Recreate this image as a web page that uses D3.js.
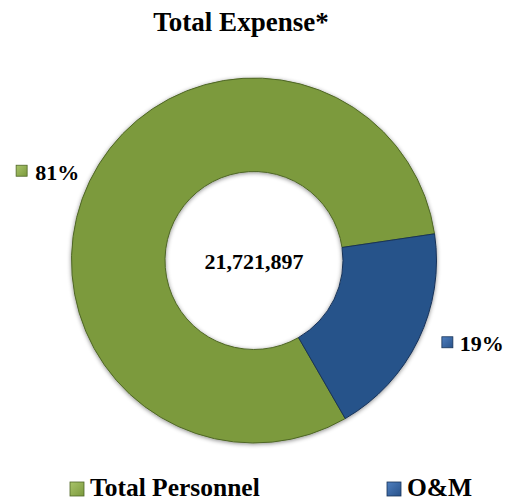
<!DOCTYPE html>
<html><head><meta charset="utf-8">
<script src="https://cdn.jsdelivr.net/npm/d3@7"></script>
<style>
html,body{margin:0;padding:0;background:#fff;}
text{font-family:"Liberation Serif","Times New Roman",serif;font-weight:bold;fill:#000;}
</style></head>
<body><div id="chart"></div>
<script>
const title = "Total Expense*";
const categories = ["Total Personnel", "O&M"];
const values = [81, 19];
const totalLabel = "21,721,897";
const colors = ["#7b9a3d", "#28528a"];
const strokes = ["#4f6626", "#173358"];
const lightColors = ["#a9c46a", "#4f7fbf"];

const W = 507, H = 502;
const cx = 254, cy = 260.5, rOuter = 182.5, rInner = 89;
const svg = d3.select("#chart").append("svg").attr("width", W).attr("height", H);

const defs = svg.append("defs");
const f = defs.append("filter").attr("id","shadow").attr("x","-20%").attr("y","-20%").attr("width","140%").attr("height","140%");
f.append("feDropShadow").attr("dx",0).attr("dy",1).attr("stdDeviation",2.2).attr("flood-color","#000").attr("flood-opacity",0.45);

categories.forEach((c,i)=>{
  const g = defs.append("linearGradient").attr("id","lg"+i).attr("x1","0").attr("y1","0").attr("x2","1").attr("y2","1");
  g.append("stop").attr("offset","0%").attr("stop-color",lightColors[i]);
  g.append("stop").attr("offset","100%").attr("stop-color",colors[i]);
});

svg.append("text").attr("x", 241).attr("y", 31).attr("text-anchor","middle")
  .style("font-size","27px").text(title);

const startRot = 150 * Math.PI/180;
const pie = d3.pie().sort(null).value(d=>d)
  .startAngle(startRot).endAngle(startRot + 2*Math.PI);
const arcs = pie(values);
const arc = d3.arc().innerRadius(rInner).outerRadius(rOuter);

const g = svg.append("g").attr("transform",`translate(${cx},${cy})`);
g.append("g").attr("filter","url(#shadow)").selectAll("path").data(arcs).join("path")
  .attr("d", arc)
  .attr("fill",(d,i)=>colors[i])
  .attr("stroke",(d,i)=>strokes[i])
  .attr("stroke-width",1);

// data labels (layout offsets relative to arc centroid)
const labelArc = d3.arc().innerRadius(212).outerRadius(212);
const labelOffsets = [{mx:-47,my:-3,tx:-28,ty:12},{mx:-3,my:-16,tx:15,ty:-2}];
const pct = d3.format(".0%");
const tot = d3.sum(values);
arcs.forEach((d,i)=>{
  const [x,y] = labelArc.centroid(d);
  const o = labelOffsets[i];
  g.append("rect").attr("x", x+o.mx).attr("y", y+o.my).attr("width",11).attr("height",11)
    .attr("fill",`url(#lg${i})`).attr("stroke",strokes[i]).attr("stroke-width",0.8);
  g.append("text").attr("x", x+o.tx).attr("y", y+o.ty).style("font-size","22px")
    .text(pct(values[i]/tot));
});

g.append("text").attr("x",0).attr("y",8).attr("text-anchor","middle").style("font-size","22px").text(totalLabel);

// legend
const legX = d3.scalePoint().domain(categories).range([70, 387]);
const leg = svg.append("g").selectAll("g").data(categories).join("g")
  .attr("transform", d=>`translate(${legX(d)},496)`);
leg.append("rect").attr("x",0).attr("y",-14).attr("width",14).attr("height",14)
  .attr("fill",(d,i)=>`url(#lg${i})`).attr("stroke",(d,i)=>strokes[i]).attr("stroke-width",0.8);
leg.append("text").attr("x",20).attr("y",0).style("font-size","25.5px").text(d=>d);
</script></body></html>
